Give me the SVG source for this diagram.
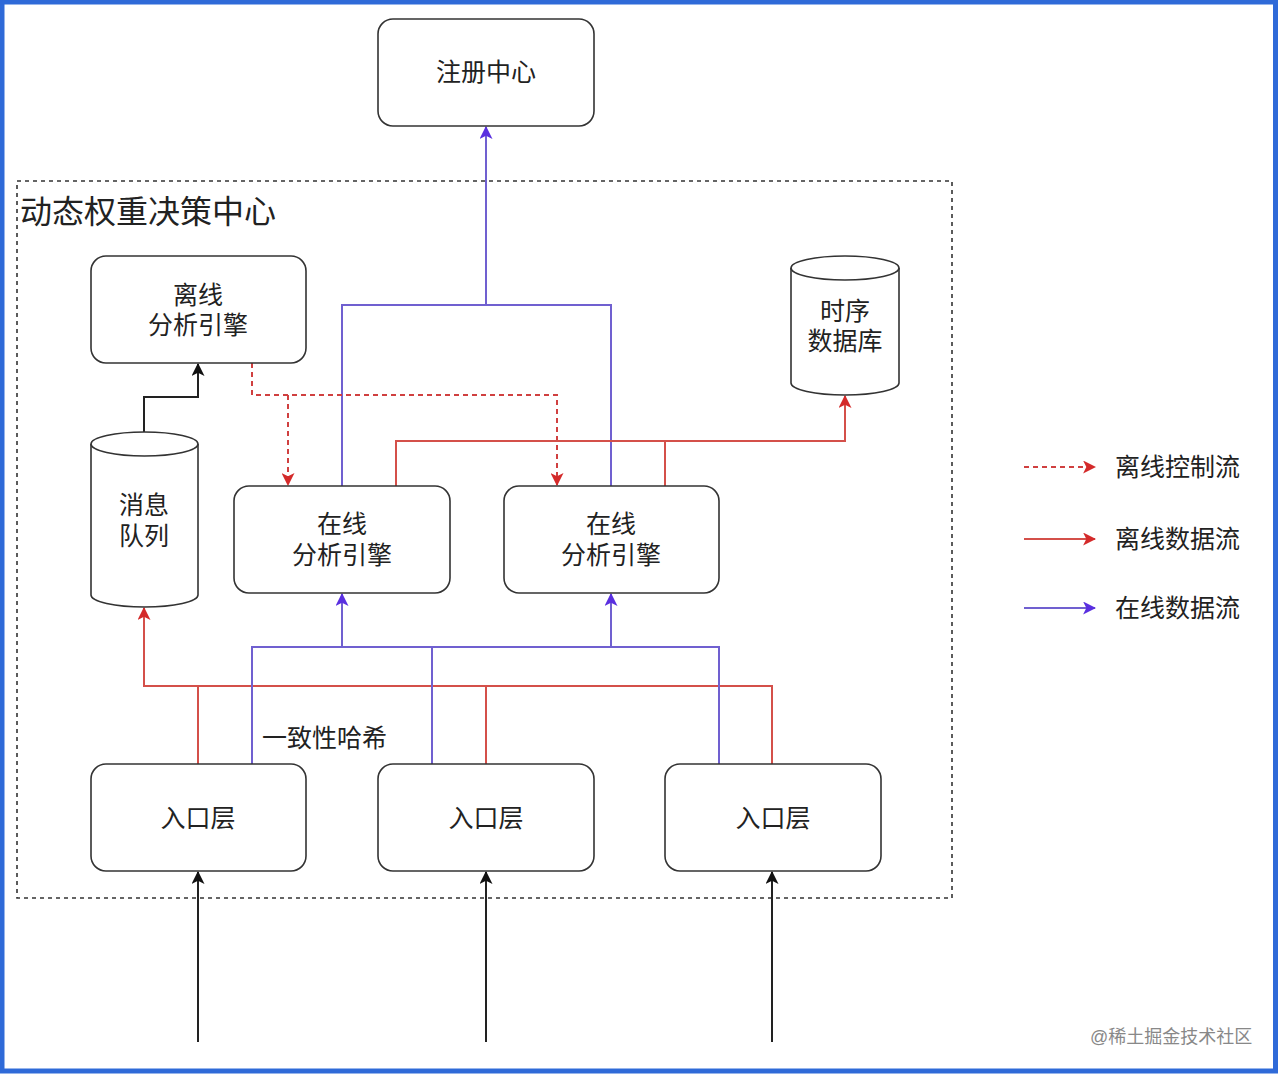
<svg xmlns="http://www.w3.org/2000/svg" width="1279" height="1076" viewBox="0 0 1279 1076">
<style>
.node{fill:#fff;stroke:#333;stroke-width:1.6}
.t{font-family:"Liberation Sans","Noto Sans CJK SC",sans-serif;font-size:25px;fill:#222;text-anchor:middle;dominant-baseline:central}
.lg{font-family:"Liberation Sans","Noto Sans CJK SC",sans-serif;font-size:25px;fill:#222;dominant-baseline:central}
.pur{fill:none;stroke:#7060d0;stroke-width:2}
.red{fill:none;stroke:#d4504a;stroke-width:2}
.redd{fill:none;stroke:#d04040;stroke-width:2;stroke-dasharray:5 4}
.blk{fill:none;stroke:#222;stroke-width:2}
</style>
<defs>
<marker id="aP" viewBox="0 0 12 12" refX="11" refY="6" markerWidth="13" markerHeight="13" orient="auto" markerUnits="userSpaceOnUse"><path d="M0,0 L12,6 L0,12 L3,6 Z" fill="#5a2fe0"/></marker>
<marker id="aR" viewBox="0 0 12 12" refX="11" refY="6" markerWidth="13" markerHeight="13" orient="auto" markerUnits="userSpaceOnUse"><path d="M0,0 L12,6 L0,12 L3,6 Z" fill="#d42a2a"/></marker>
<marker id="aB" viewBox="0 0 12 12" refX="11" refY="6" markerWidth="13" markerHeight="13" orient="auto" markerUnits="userSpaceOnUse"><path d="M0,0 L12,6 L0,12 L3,6 Z" fill="#111"/></marker>
</defs>
<rect x="0" y="0" width="1279" height="1076" fill="#fff"/>
<rect x="2" y="2" width="1273.5" height="1069" fill="none" stroke="#2f6ad8" stroke-width="5"/>

<g id="container">
<rect x="17" y="181" width="935" height="717" fill="none" stroke="#333" stroke-width="1.6" stroke-dasharray="4 4"/>
<text x="20" y="212" class="lg" style="font-size:32px">动态权重决策中心</text>
</g>

<g id="connectors">
<path class="pur" d="M342,486 V305 H611 V486"/>
<path class="pur" d="M486,305 V127" marker-end="url(#aP)"/>
<path class="blk" d="M144,432 V397 H198 V364" marker-end="url(#aB)"/>
<path class="redd" d="M252,363 V395 H557 V485" marker-end="url(#aR)"/>
<path class="redd" d="M288,395 V485" marker-end="url(#aR)"/>
<path class="red" d="M396,486 V441 H845 V396" marker-end="url(#aR)"/>
<path class="red" d="M665,486 V441"/>
<path class="red" d="M198,764 V686"/>
<path class="red" d="M486,764 V686"/>
<path class="red" d="M772,764 V686 H144 V608" marker-end="url(#aR)"/>
<path class="pur" d="M252,764 V647 H719 V764"/>
<path class="pur" d="M432,764 V647"/>
<path class="pur" d="M342,647 V594" marker-end="url(#aP)"/>
<path class="pur" d="M611,647 V594" marker-end="url(#aP)"/>
<path class="blk" d="M198,1042 V872" marker-end="url(#aB)"/>
<path class="blk" d="M486,1042 V872" marker-end="url(#aB)"/>
<path class="blk" d="M772,1042 V872" marker-end="url(#aB)"/>
<text x="262" y="738" class="lg">一致性哈希</text>
</g>

<g id="registry">
<rect class="node" x="378" y="19" width="216" height="107" rx="15"/>
<text class="t" x="486" y="72">注册中心</text>
</g>

<g id="offline-engine">
<rect class="node" x="91" y="256" width="215" height="107" rx="15"/>
<text class="t" x="198" y="295">离线</text>
<text class="t" x="198" y="325">分析引擎</text>
</g>

<g id="queue">
<path class="node" d="M91,444 A53.5,12 0 0 1 198,444 V595 A53.5,12 0 0 1 91,595 Z"/>
<path class="node" d="M91,444 A53.5,12 0 0 0 198,444" fill="none"/>
<text class="t" x="144" y="505">消息</text>
<text class="t" x="144" y="536">队列</text>
</g>

<g id="tsdb">
<path class="node" d="M791,268 A54,12 0 0 1 899,268 V383 A54,12 0 0 1 791,383 Z"/>
<path class="node" d="M791,268 A54,12 0 0 0 899,268" fill="none"/>
<text class="t" x="845" y="311">时序</text>
<text class="t" x="845" y="341">数据库</text>
</g>

<g id="online-engine-1">
<rect class="node" x="234" y="486" width="216" height="107" rx="15"/>
<text class="t" x="342" y="524">在线</text>
<text class="t" x="342" y="555">分析引擎</text>
</g>

<g id="online-engine-2">
<rect class="node" x="504" y="486" width="215" height="107" rx="15"/>
<text class="t" x="611" y="524">在线</text>
<text class="t" x="611" y="555">分析引擎</text>
</g>

<g id="entry-1">
<rect class="node" x="91" y="764" width="215" height="107" rx="15"/>
<text class="t" x="198" y="818">入口层</text>
</g>
<g id="entry-2">
<rect class="node" x="378" y="764" width="216" height="107" rx="15"/>
<text class="t" x="486" y="818">入口层</text>
</g>
<g id="entry-3">
<rect class="node" x="665" y="764" width="216" height="107" rx="15"/>
<text class="t" x="773" y="818">入口层</text>
</g>

<g id="legend">
<path class="redd" d="M1024,467 H1095" marker-end="url(#aR)"/>
<text class="lg" x="1115" y="467">离线控制流</text>
<path class="red" d="M1024,539 H1095" marker-end="url(#aR)"/>
<text class="lg" x="1115" y="539">离线数据流</text>
<path class="pur" d="M1024,608 H1095" marker-end="url(#aP)"/>
<text class="lg" x="1115" y="608">在线数据流</text>
</g>

<text x="1090" y="1037" class="lg" style="font-size:18px;fill:#888">@稀土掘金技术社区</text>
</svg>
